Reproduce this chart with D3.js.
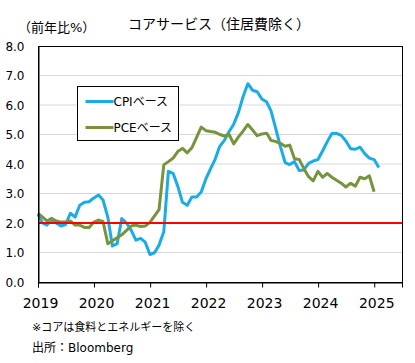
<!DOCTYPE html>
<html>
<head>
<meta charset="utf-8">
<script src="https://cdn.jsdelivr.net/npm/d3@7"></script>
<style>
    body { margin: 0; background: #fff; }
    text { font-family: "DejaVu Sans", "Noto Sans CJK JP", sans-serif; }
</style>
</head>
<body>
<div id="chart"></div>
<script>
const yTicks = [0, 1, 2, 3, 4, 5, 6, 7, 8]
const yearTicks = [2019, 2020, 2021, 2022, 2023, 2024, 2025]

// monthly, first point = Dec 2018 month-end
const cpiValues = [
    2.3, 2.0, 1.93, 2.1, 2.0, 1.9, 1.95, 2.33, 2.2, 2.6, 2.7, 2.72,
    2.85, 2.95, 2.78, 2.2, 1.22, 1.3, 2.15, 2.0, 1.75, 1.42, 1.48, 1.35,
    0.93, 1.0, 1.25, 1.7, 3.75, 3.68, 3.25, 2.7, 2.6, 2.88, 2.88, 3.05,
    3.5, 3.85, 4.15, 4.6, 4.8, 5.1, 5.35, 5.75, 6.3, 6.72, 6.5, 6.45,
    6.2, 6.1, 5.8, 5.2, 4.6, 4.05, 3.98, 4.08, 3.78, 3.8, 4.02, 4.1,
    4.15, 4.45, 4.75, 5.03, 5.04, 4.97, 4.78, 4.52, 4.5, 4.57, 4.35, 4.2,
    4.15, 3.88
]
const pceValues = [
    2.33, 2.2, 2.07, 2.16, 2.07, 2.03, 2.03, 2.07, 1.93, 1.93, 1.85, 1.85,
    2.03, 2.1, 2.05, 1.3, 1.4, 1.5, 1.6, 1.75, 1.9, 1.93, 1.88, 1.9,
    2.02, 2.25, 2.45, 3.97, 4.08, 4.2, 4.42, 4.53, 4.38, 4.55, 4.9, 5.25,
    5.13, 5.1, 5.08, 5.0, 4.95, 5.0, 4.68, 4.92, 5.12, 5.34, 5.15, 4.96,
    5.02, 5.04, 4.8, 4.76, 4.7, 4.6, 4.64, 4.18, 4.15, 3.85, 3.57, 3.43,
    3.75, 3.55, 3.68, 3.55, 3.45, 3.35, 3.22, 3.35, 3.25, 3.55, 3.5, 3.6,
    3.06
]
const targetLine = 2.0

const seriesList = [
    { name: "CPIベース", values: cpiValues, color: "#1aace6" },
    { name: "PCEベース", values: pceValues, color: "#77933c" }
]

function toPoints(values) {
    return values.map(function (v, i) {
        return { date: new Date(2019, i, 0), value: v }
    })
}

function drawChart(containerSelector) {
    const width = 415, height = 363
    const plot = { left: 38, right: 402, top: 46, bottom: 282 }

    const svg = d3.select(containerSelector).append("svg")
        .attr("width", width)
        .attr("height", height)

    const x = d3.scaleTime()
        .domain([new Date(2019, 0, 1), new Date(2025, 6, 1)])
        .range([plot.left, plot.right])

    const y = d3.scaleLinear()
        .domain([0, 8])
        .range([plot.bottom, plot.top])

    // grid
    svg.append("g")
        .selectAll("line")
        .data(yTicks.filter(function (d) { return d > 0 && d < 8 }))
        .enter().append("line")
        .attr("x1", plot.left)
        .attr("x2", plot.right)
        .attr("y1", function (d) { return y(d) })
        .attr("y2", function (d) { return y(d) })
        .attr("stroke", "#d9d9d9")
        .attr("stroke-width", 1)

    const line = d3.line()
        .x(function (d) { return x(d.date) })
        .y(function (d) { return y(d.value) })

    svg.append("g")
        .selectAll("path")
        .data(seriesList)
        .enter().append("path")
        .attr("d", function (d) { return line(toPoints(d.values)) })
        .attr("fill", "none")
        .attr("stroke", function (d) { return d.color })
        .attr("stroke-width", 3)
        .attr("stroke-linejoin", "round")

    svg.append("line")
        .attr("x1", plot.left)
        .attr("x2", plot.right)
        .attr("y1", y(targetLine))
        .attr("y2", y(targetLine))
        .attr("stroke", "#ff0000")
        .attr("stroke-width", 2)

    // frame
    svg.append("rect")
        .attr("x", plot.left + 0.5)
        .attr("y", plot.top + 0.5)
        .attr("width", plot.right - plot.left)
        .attr("height", plot.bottom - plot.top)
        .attr("fill", "none")
        .attr("stroke", "#000")

    const yAxis = svg.append("g")
        .attr("transform", "translate(" + (plot.left + 0.5) + ",0.5)")
        .call(d3.axisLeft(y).tickValues(yTicks).tickSize(0).tickPadding(14).tickFormat(d3.format(".1f")))
    yAxis.select(".domain").attr("stroke", "#000")
    yAxis.selectAll("text").attr("font-size", 12).attr("fill", "#000")
        .attr("font-family", "DejaVu Sans")

    const xAxis = svg.append("g")
        .attr("transform", "translate(0," + (plot.bottom + 0.5) + ")")
        .call(d3.axisBottom(x)
            .tickValues(yearTicks.map(function (yr) { return new Date(yr, 0, 1) }))
            .tickSize(5).tickPadding(11).tickFormat(d3.timeFormat("%Y")))
    xAxis.select(".domain").attr("stroke", "#000")
    xAxis.selectAll("line").attr("stroke", "#000")
    xAxis.selectAll("text").attr("font-size", 14).attr("fill", "#000")
        .attr("dx", 2).attr("font-family", "DejaVu Sans")

    // legend
    const legend = svg.append("g").attr("transform", "translate(77.5,86.5)")
    legend.append("rect")
        .attr("width", 101)
        .attr("height", 54)
        .attr("fill", "#fff")
        .attr("stroke", "#000")
    const item = legend.selectAll(".item")
        .data(seriesList)
        .enter().append("g")
        .attr("transform", function (d, i) { return "translate(0," + (15 + i * 26) + ")" })
    item.append("line")
        .attr("x1", 8).attr("x2", 36)
        .attr("stroke", function (d) { return d.color })
        .attr("stroke-width", 3)
    item.append("text")
        .attr("x", 36)
        .attr("y", 4.5)
        .attr("font-size", 12)
        .text(function (d) { return d.name })

    svg.append("text")
        .attr("x", 219).attr("y", 29)
        .attr("text-anchor", "middle")
        .attr("font-size", 14)
        .text("コアサービス（住居費除く）")

    svg.append("text")
        .attr("x", 18).attr("y", 32)
        .attr("font-size", 13)
        .text("（前年比%）")

    svg.append("text")
        .attr("x", 32).attr("y", 331)
        .attr("font-size", 11)
        .text("※コアは食料とエネルギーを除く")

    svg.append("text")
        .attr("x", 32).attr("y", 352)
        .attr("font-size", 12)
        .text("出所：Bloomberg")
}

drawChart("#chart")
</script>
</body>
</html>
